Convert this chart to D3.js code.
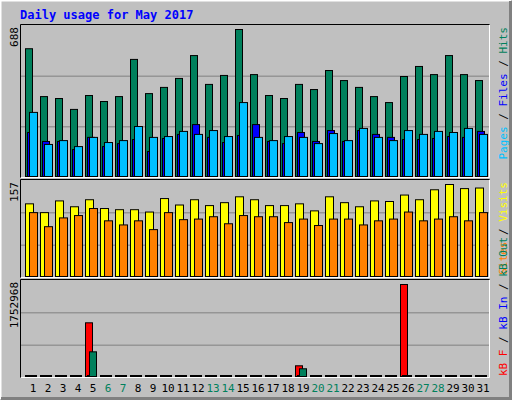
<!DOCTYPE html>
<html><head><meta charset="utf-8">
<script src="https://cdn.jsdelivr.net/npm/d3@7"></script>
<style>body{margin:0;background:#fff}svg{display:block}text{font-family:"DejaVu Sans Mono",monospace}</style>
</head><body><svg></svg>
<script>
// data
let days = d3.range(1, 32)
let weekend = [6, 7, 13, 14, 20, 21, 27, 28]
let hits = [598,374,365,314,379,351,374,548,388,417,459,566,431,473,688,477,379,365,431,407,496,449,417,374,346,468,515,477,566,477,449]
let files = [206,164,164,126,183,140,154,173,117,178,197,243,183,159,192,243,164,154,206,164,215,164,215,197,183,173,173,178,187,183,211]
let pages = [300,150,168,140,183,159,168,234,183,187,211,197,215,187,346,183,168,187,183,154,201,168,225,183,168,215,197,211,206,225,197]
let visits = [124,109,129,119,131,116,114,114,110,133,122,131,121,126,136,131,121,121,124,112,136,126,119,129,128,139,131,148,157,150,151]
let sites = [109,85,100,104,116,95,88,95,80,109,97,98,102,90,104,102,102,92,98,87,98,98,88,95,98,110,95,98,102,95,109]
let kbF = days.map(d => 0); kbF[4] = 1023000; kbF[18] = 204000; kbF[25] = 1752968
let kbIn = days.map(d => 0)
let kbOut = days.map(d => 0); kbOut[4] = 470000; kbOut[18] = 147000

let W = 512, H = 400
let svg = d3.select('svg').attr('width', W).attr('height', H)

// frame
svg.append('rect').attr('x', 0).attr('y', 0).attr('width', W).attr('height', H).attr('fill', '#c0c0c0')
svg.append('path').attr('d', 'M0.5,399 V0.5 H511').attr('stroke', '#fff').attr('stroke-width', 2).attr('fill', 'none')
svg.append('path').attr('d', 'M1,398.5 H510.5 V1').attr('stroke', '#808080').attr('stroke-width', 3).attr('fill', 'none')

svg.append('text').text('Daily usage for May 2017')
    .attr('x', 20).attr('y', 19).attr('fill', '#0000ff')
    .attr('font-size', 12).attr('font-weight', 'bold')

let xScale = d3.scaleLinear().domain([1, 31]).range([25, 475])
let left = 21, right = 489

function panel(y0, y1, max, label, series, legend, anchorTop) {
    let g = svg.append('g')
    g.append('rect').attr('x', left).attr('y', y0).attr('width', right - left).attr('height', y1 - y0)
        .attr('fill', '#c0c0c0')
    g.append('path').attr('d', `M${left - 0.5},${y1 + 0.5} V${y0 - 0.5} H${right + 0.5}`)
        .attr('stroke', '#000').attr('fill', 'none')
    g.append('path').attr('d', `M${left},${y1 + 0.5} H${right + 0.5} V${y0}`)
        .attr('stroke', '#fff').attr('fill', 'none')
    let h = y1 - y0
    ;[1, 2].forEach(k => {
        g.append('line').attr('x1', left).attr('x2', right)
            .attr('y1', y0 + h * k / 3 + 0.5).attr('y2', y0 + h * k / 3 + 0.5)
            .attr('stroke', '#808080')
    })
    let y = d3.scaleLinear().domain([0, max]).range([y1 - 1, y0 + 4])
    series.forEach(s => {
        g.selectAll(null).data(s.values).enter().append('rect')
            .attr('x', (v, i) => xScale(days[i]) + s.off + 0.5)
            .attr('y', v => Math.min(y(v), y(0) - 1) + 0.5)
            .attr('width', s.w)
            .attr('height', v => Math.max(y(0) - y(v), 1))
            .attr('fill', v => v > 0 ? s.color : '#000')
            .attr('stroke', '#000')
    })
    g.append('text').text(label)
        .attr('transform', `translate(18,${y0 + 2}) rotate(-90)`)
        .attr('text-anchor', 'end').attr('font-size', 11).attr('fill', '#000')
    let t = g.append('text')
        .attr('transform', `translate(507,${anchorTop ? y0 + 2 : y1 - 1}) rotate(-90)`)
        .attr('text-anchor', anchorTop ? 'end' : 'start').attr('font-size', 11)
    legend.forEach((l, i) => {
        if (i) t.append('tspan').text(' / ').attr('fill', '#000')
        t.append('tspan').text(l[0]).attr('fill', l[1])
    })
}

panel(25, 177, d3.max(hits), String(d3.max(hits)), [
    {values: hits, off: 0, w: 7, color: '#00805c'},
    {values: files, off: 2, w: 7, color: '#0000ff'},
    {values: pages, off: 4, w: 8, color: '#00c0ff'}
], [['Pages', '#00c0ff'], ['Files', '#0000ff'], ['Hits', '#00805c']], true)

panel(180, 277, d3.max(visits), String(d3.max(visits)), [
    {values: visits, off: 0, w: 8, color: '#ffff00'},
    {values: sites, off: 4, w: 8, color: '#ff8000'}
], [['Sites', '#ff8000'], ['Visits', '#ffff00']], true)

panel(280, 377, d3.max(kbF), String(d3.max(kbF)), [
    {values: kbF, off: 0, w: 7, color: '#ff0000'},
    {values: kbIn, off: 2, w: 7, color: '#0000ff'},
    {values: kbOut, off: 4, w: 7, color: '#00805c'}
], [['kB F', '#ff0000'], ['kB In', '#0000ff'], ['kB Out', '#00805c']], false)

// day labels
svg.selectAll('.day').data(days).enter().append('text')
    .attr('class', 'day')
    .attr('x', d => xScale(d) + 8).attr('y', 392)
    .attr('text-anchor', 'middle').attr('font-size', 11)
    .attr('fill', d => weekend.includes(d) ? '#00805c' : '#000')
    .text(d => d)
</script></body></html>
